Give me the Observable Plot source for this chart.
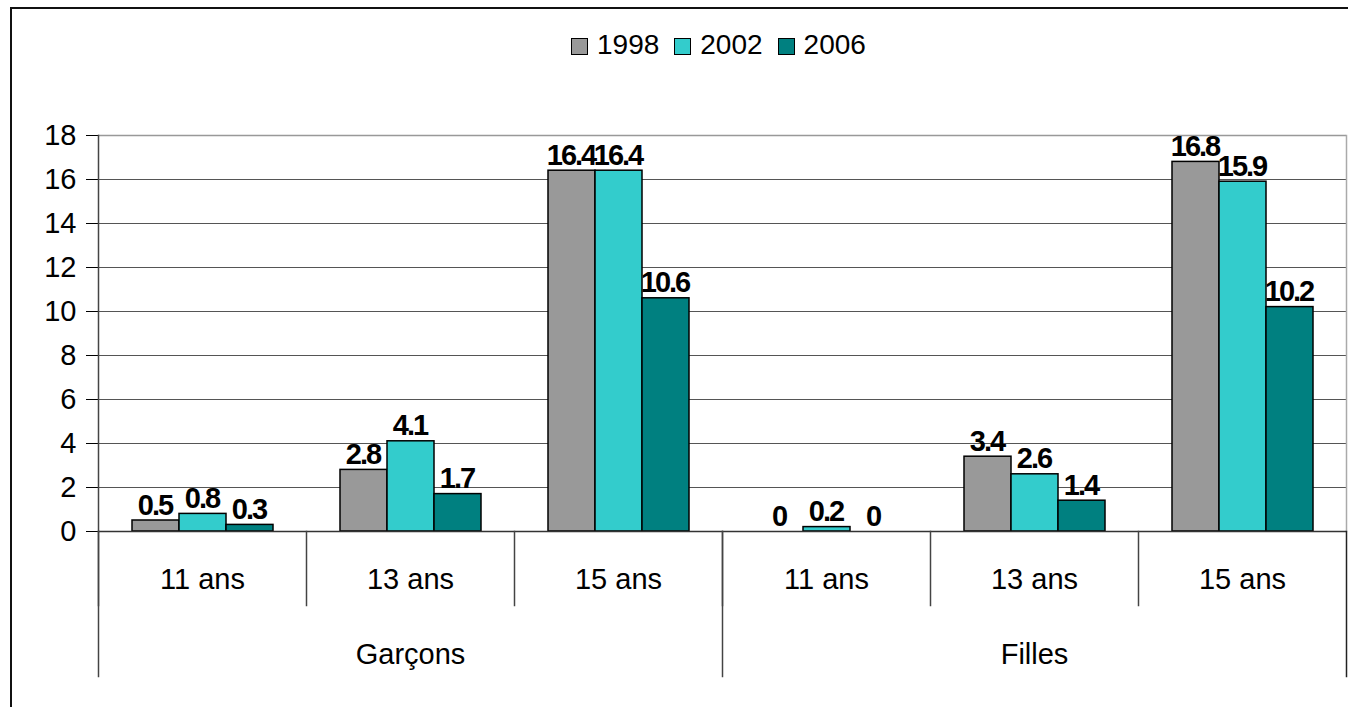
<!DOCTYPE html>
<html>
<head>
<meta charset="utf-8">
<script src="https://cdn.jsdelivr.net/npm/d3@7"></script>
<script src="https://cdn.jsdelivr.net/npm/@observablehq/plot@0.6"></script>
<style>
  html, body { margin: 0; padding: 0; background: #fff; overflow: hidden; }
  body { width: 1348px; height: 707px; position: relative; font-family: "Liberation Sans", Arial, sans-serif; }
  #border { position: absolute; left: 10px; top: 7px; width: 1400px; height: 800px;
            border-top: 2px solid #111; border-left: 2px solid #111; pointer-events: none; }
  #legend { height: 90px; display: flex; align-items: center; padding-left: 571px; box-sizing: border-box; }
  .item { display: flex; align-items: center; margin-right: 15px; font-size: 28px; color: #000; }
  .swatch { width: 15px; height: 15px; border: 1.5px solid #000; margin-right: 9px; margin-top: 2px; }
  #chart g[font-weight="bold"] text { letter-spacing: -2px; }
</style>
</head>
<body>
<div id="legend"></div>
<div id="chart"></div>
<div id="border"></div>
<script>
const groups = ["Garçons", "Filles"];
const ages = ["11 ans", "13 ans", "15 ans"];
const years = ["1998", "2002", "2006"];
const v1998 = [0.5, 2.8, 16.4, 0, 3.4, 16.8];
const v2002 = [0.8, 4.1, 16.4, 0.2, 2.6, 15.9];
const v2006 = [0.3, 1.7, 10.6, 0, 1.4, 10.2];
const yTicks = [0, 2, 4, 6, 8, 10, 12, 14, 16, 18];
const colors = ["#999999", "#33CCCC", "#008080"];

const series = [v1998, v2002, v2006];
const categories = groups.flatMap(g => ages.map(a => g + "|" + a));
const rows = categories.flatMap((c, i) => years.map((y, j) => ({key: c, year: y, value: series[j][i]})));
const groupLabels = groups.map(g => ({group: g, key: g + "|" + ages[1]}));

// legend
const legend = document.getElementById("legend");
years.forEach((y, j) => {
  const it = document.createElement("div");
  it.className = "item";
  const sw = document.createElement("span");
  sw.className = "swatch";
  sw.style.background = colors[j];
  it.appendChild(sw);
  it.appendChild(document.createTextNode(y));
  legend.appendChild(it);
});

const H = 617, MT = 45, MB = 176;
const innerH = H - MT - MB;

const chart = Plot.plot({
  width: 1348,
  height: H,
  marginTop: MT,
  marginBottom: MB,
  marginLeft: 97,
  marginRight: 2,
  style: {fontFamily: "'Liberation Sans', Arial, sans-serif", fontSize: "29px", color: "#000", background: "transparent", overflow: "visible"},
  fx: {domain: categories, padding: 0, label: null, axis: "bottom", tickFormat: d => d.split("|")[1], tickSize: 0, tickPadding: 37},
  x: {domain: years, paddingInner: 0, paddingOuter: 0.71, axis: null},
  y: {domain: [0, 18], ticks: yTicks, tickSize: 12, tickPadding: 10, label: null, tickFormat: d => String(d)},
  color: {domain: years, range: colors},
  marks: [
    Plot.ruleY(yTicks.filter(t => t > 0 && t < 18), {stroke: "#555", strokeWidth: 1}),
    Plot.ruleY([18], {stroke: "#999", strokeWidth: 1.5}),
    Plot.frame({anchor: "right", fx: () => categories[categories.length - 1], stroke: "#aaa", strokeWidth: 1.5}),
    Plot.barY(rows.filter(d => d.value > 0), {fx: "key", x: "year", y: "value", fill: "year", stroke: "#000", strokeWidth: 1.5}),
    Plot.ruleY([0], {stroke: "#333", strokeWidth: 1.5}),
    Plot.frame({anchor: "left", fx: () => categories[0], stroke: "#444", strokeWidth: 1.5}),
    Plot.frame({anchor: "left", insetTop: innerH, insetBottom: -74, stroke: "#444", strokeWidth: 1.5}),
    ...groups.map(g => Plot.frame({anchor: "left", fx: () => g + "|" + ages[0], insetTop: innerH, insetBottom: -145, stroke: "#444", strokeWidth: 1.5})),
    Plot.frame({anchor: "right", fx: () => categories[categories.length - 1], insetTop: innerH, insetBottom: -145, stroke: "#222", strokeWidth: 1.5}),
    Plot.text(rows, {fx: "key", x: "year", y: "value", text: d => String(d.value), lineAnchor: "bottom", dy: -6, dx: -1, fontWeight: "bold", fontSize: 29, fill: "#000"}),
    Plot.text(groupLabels, {fx: "key", text: "group", frameAnchor: "bottom", lineAnchor: "top", dy: 112, fontSize: 29, fill: "#000"})
  ]
});
document.getElementById("chart").appendChild(chart);
</script>
</body>
</html>
